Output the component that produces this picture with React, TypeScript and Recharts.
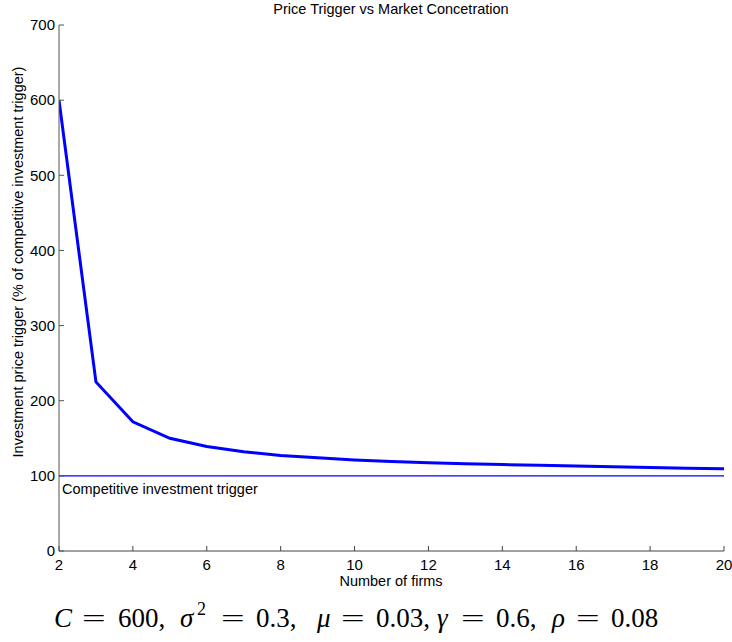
import React from 'react';
import { LineChart, Line, XAxis, YAxis, ReferenceLine } from 'recharts';

const firms = [2, 3, 4, 5, 6, 7, 8, 9, 10, 11, 12, 13, 14, 15, 16, 17, 18, 19, 20];
const priceTrigger = [600, 225, 172, 150, 139, 132, 127, 124, 121, 119, 117.5, 116, 115, 114, 113, 112, 111, 110, 109.5];
const competitiveTrigger = 100;
const xTicks = [2, 4, 6, 8, 10, 12, 14, 16, 18, 20];
const yTicks = [0, 100, 200, 300, 400, 500, 600, 700];

const FONT = '"Liberation Sans", Arial, Helvetica, sans-serif';
const SERIF = '"Liberation Serif", "Times New Roman", serif';
const W = 732;
const H = 642;

const chartData = firms.map((n, i) => ({ n, trigger: priceTrigger[i] }));

function CompLabel(props: any) {
  const vb = props.viewBox || {};
  return (
    <text x={vb.x + 3} y={vb.y + 18} fontFamily={FONT} fontSize={14.5} fill="#000">
      Competitive investment trigger
    </text>
  );
}

// formula pieces: [text, x, italic]
const formula: [string, number, boolean][] = [
  ['C', 54, true],
  ['600,', 118, false],
  ['σ', 180, true],
  ['0.3,', 256, false],
  ['μ', 317, true],
  ['0.03,', 376, false],
  ['γ', 437, true],
  ['0.6,', 496, false],
  ['ρ', 552, true],
  ['0.08', 611, false],
];
const equalsX = [82, 221, 341, 461, 576];

export default function App() {
  return (
    <div style={{ position: 'absolute', left: 0, top: 0, width: W, height: H, background: '#fff' }}>
      <LineChart
        width={W}
        height={H}
        data={chartData}
        margin={{ top: 25, right: 8, bottom: 71, left: 19 }}
      >
        <XAxis
          dataKey="n"
          type="number"
          domain={[2, 20]}
          ticks={xTicks}
          height={20}
          tickSize={-5}
          tickMargin={13}
          stroke="#444"
          tick={{ fill: '#000', fontSize: 15, fontFamily: FONT }}
          allowDataOverflow
        />
        <YAxis
          type="number"
          domain={[0, 700]}
          ticks={yTicks}
          width={40}
          tickSize={-5}
          tickMargin={9}
          stroke="#555"
          tick={{ fill: '#000', fontSize: 15, fontFamily: FONT }}
        />
        <ReferenceLine y={competitiveTrigger} stroke="#0000ff" strokeWidth={1.3} label={<CompLabel />} />
        <Line
          type="linear"
          dataKey="trigger"
          stroke="#0000ff"
          strokeWidth={3}
          dot={false}
          isAnimationActive={false}
        />
      </LineChart>
      <svg
        width={W}
        height={H}
        style={{ position: 'absolute', left: 0, top: 0, pointerEvents: 'none' }}
      >
        <text x={391} y={14} textAnchor="middle" fontFamily={FONT} fontSize={14.5} fill="#000">
          Price Trigger vs Market Concetration
        </text>
        <text x={391} y={586} textAnchor="middle" fontFamily={FONT} fontSize={14.5} fill="#000">
          Number of firms
        </text>
        <text
          transform="translate(23,262) rotate(-90)"
          textAnchor="middle"
          fontFamily={FONT}
          fontSize={14.5}
          fill="#000"
        >
          Investment price trigger (% of competitive investment trigger)
        </text>
        <g fontFamily={SERIF} fill="#000">
          {formula.map(([t, x, it], i) => (
            <text key={i} x={x} y={627} fontSize={27} fontStyle={it ? 'italic' : 'normal'}>
              {t}
            </text>
          ))}
          <text x={197} y={615} fontSize={18}>2</text>
          {equalsX.map((x, i) => (
            <text key={'eq' + i} x={x} y={627} fontSize={42} transform={`translate(${x},627) scale(1,0.6) translate(${-x},-627)`}>
              =
            </text>
          ))}
        </g>
      </svg>
    </div>
  );
}
